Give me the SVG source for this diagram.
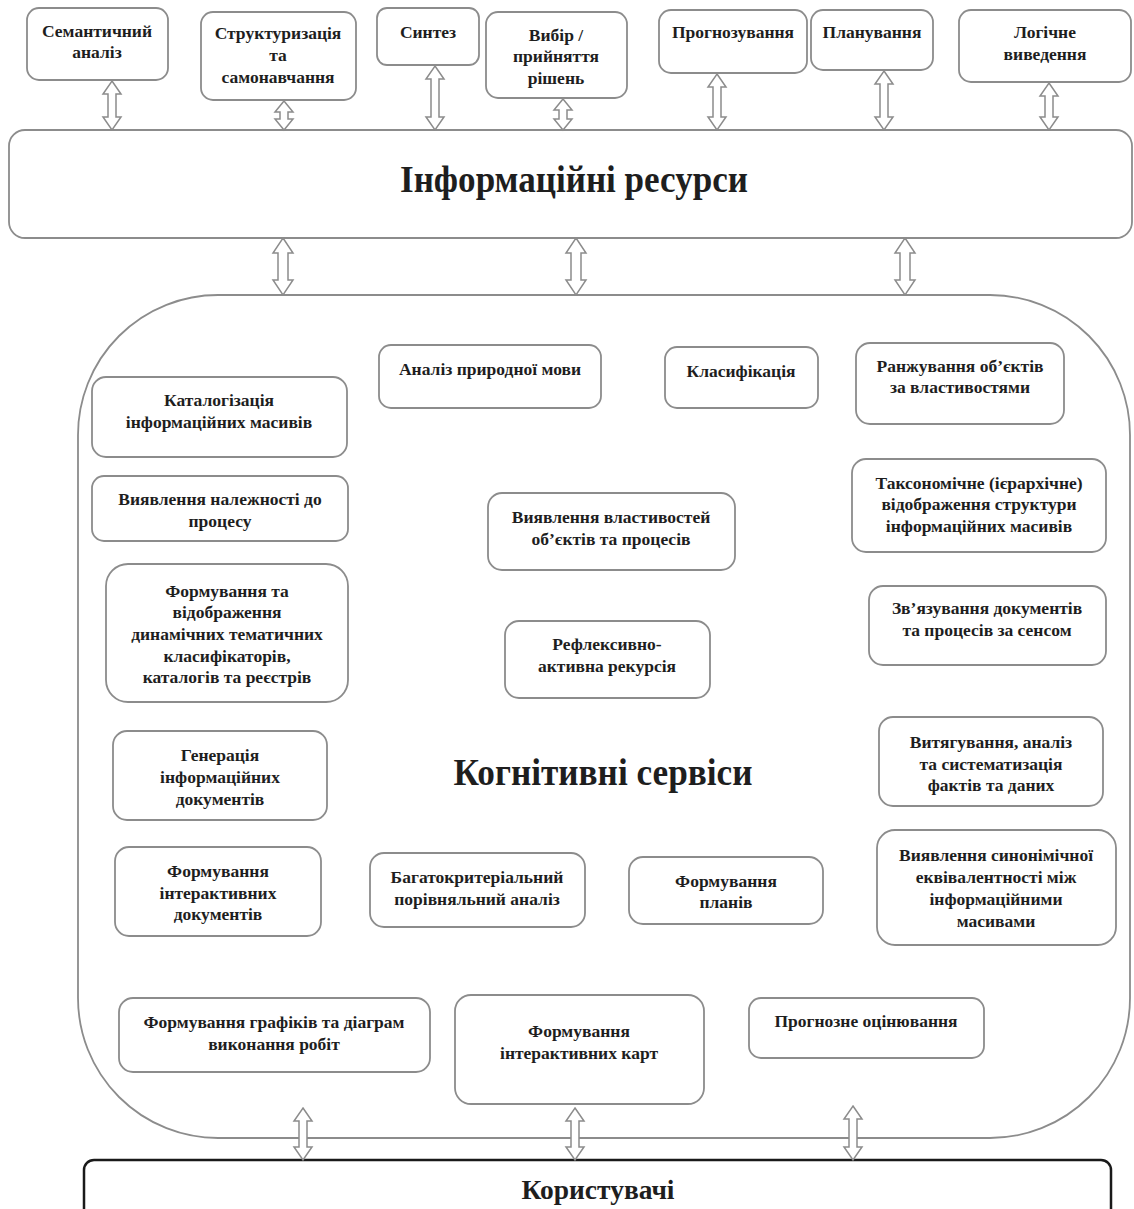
<svg xmlns="http://www.w3.org/2000/svg" width="1134" height="1209" viewBox="0 0 1134 1209">
<style>
.bx{fill:#fff;stroke:#8c8c8c;stroke-width:1.8}
.t{font-family:"Liberation Serif","Times New Roman",serif;font-weight:bold;font-size:17.5px;fill:#1e1e1e;text-anchor:middle}
.ttl{font-family:"Liberation Serif","Times New Roman",serif;font-weight:bold;fill:#1e1e1e;text-anchor:middle}
.arr{fill:#fff;stroke:#8c8c8c;stroke-width:1.5;stroke-linejoin:miter}
</style>
<rect width="1134" height="1209" fill="#fff"/>

<g id="info-resources">
<rect class="bx" x="9" y="130" width="1123" height="108" rx="16"/>
<text class="ttl" x="574" y="192" font-size="38" textLength="348" lengthAdjust="spacingAndGlyphs">Інформаційні ресурси</text>
</g>

<g id="cognitive-services">
<rect class="bx" x="78" y="295" width="1052" height="843" rx="140"/>
<text class="ttl" x="603" y="785" font-size="38" textLength="299" lengthAdjust="spacingAndGlyphs">Когнітивні сервіси</text>
</g>

<g id="users">
<rect x="84" y="1160" width="1027" height="60" rx="10" fill="#fff" stroke="#1a1a1a" stroke-width="2.5"/>
<text class="ttl" x="598" y="1199" font-size="28" textLength="153" lengthAdjust="spacingAndGlyphs">Користувачі</text>
</g>

<g id="connectors">
<path class="arr" d="M112 81 L121 94 L116 94 L116 117 L121 117 L112 130 L103 117 L108 117 L108 94 L103 94 Z"/>
<path class="arr" d="M284 101 L293 112 L288 112 L288 119 L293 119 L284 130 L275 119 L280 119 L280 112 L275 112 Z"/>
<path class="arr" d="M435 66 L444 79 L439 79 L439 117 L444 117 L435 130 L426 117 L431 117 L431 79 L426 79 Z"/>
<path class="arr" d="M563 99 L572 110 L567 110 L567 119 L572 119 L563 130 L554 119 L559 119 L559 110 L554 110 Z"/>
<path class="arr" d="M717 74 L726 87 L721 87 L721 117 L726 117 L717 130 L708 117 L713 117 L713 87 L708 87 Z"/>
<path class="arr" d="M884 71 L893 84 L888 84 L888 117 L893 117 L884 130 L875 117 L880 117 L880 84 L875 84 Z"/>
<path class="arr" d="M1049 83 L1058 96 L1053 96 L1053 117 L1058 117 L1049 130 L1040 117 L1045 117 L1045 96 L1040 96 Z"/>
<path class="arr" d="M283 238 L293 253 L288 253 L288 280 L293 280 L283 295 L273 280 L278 280 L278 253 L273 253 Z"/>
<path class="arr" d="M576 238 L586 253 L581 253 L581 280 L586 280 L576 295 L566 280 L571 280 L571 253 L566 253 Z"/>
<path class="arr" d="M905 238 L915 253 L910 253 L910 280 L915 280 L905 295 L895 280 L900 280 L900 253 L895 253 Z"/>
<path class="arr" d="M303 1108 L312 1121 L307 1121 L307 1147 L312 1147 L303 1160 L294 1147 L299 1147 L299 1121 L294 1121 Z"/>
<path class="arr" d="M575 1108 L584 1121 L579 1121 L579 1147 L584 1147 L575 1160 L566 1147 L571 1147 L571 1121 L566 1121 Z"/>
<path class="arr" d="M853 1106 L862 1119 L857 1119 L857 1147 L862 1147 L853 1160 L844 1147 L849 1147 L849 1119 L844 1119 Z"/>
</g>

<g id="semantic-analysis">
<rect class="bx" x="27" y="8" width="141" height="72" rx="12"/>
<text class="t" x="97" y="37">Семантичний</text>
<text class="t" x="97" y="58">аналіз</text>
</g>
<g id="structuring">
<rect class="bx" x="201" y="12" width="155" height="88" rx="12"/>
<text class="t" x="278" y="39">Структуризація</text>
<text class="t" x="278" y="61">та</text>
<text class="t" x="278" y="83">самонавчання</text>
</g>
<g id="synthesis">
<rect class="bx" x="377" y="8" width="102" height="57" rx="10"/>
<text class="t" x="428" y="38">Синтез</text>
</g>
<g id="decision">
<rect class="bx" x="486" y="12" width="141" height="86" rx="12"/>
<text class="t" x="556" y="41">Вибір /</text>
<text class="t" x="556" y="62">прийняття</text>
<text class="t" x="556" y="84">рішень</text>
</g>
<g id="forecasting">
<rect class="bx" x="659" y="10" width="148" height="63" rx="12"/>
<text class="t" x="733" y="38">Прогнозування</text>
</g>
<g id="planning">
<rect class="bx" x="811" y="10" width="122" height="60" rx="12"/>
<text class="t" x="872" y="38">Планування</text>
</g>
<g id="logical-inference">
<rect class="bx" x="959" y="10" width="172" height="72" rx="12"/>
<text class="t" x="1045" y="38">Логічне</text>
<text class="t" x="1045" y="60">виведення</text>
</g>

<g id="nlp">
<rect class="bx" x="379" y="345" width="222" height="63" rx="12"/>
<text class="t" x="490" y="375">Аналіз природної мови</text>
</g>
<g id="classification">
<rect class="bx" x="665" y="347" width="153" height="61" rx="12"/>
<text class="t" x="741" y="377">Класифікація</text>
</g>
<g id="ranking">
<rect class="bx" x="856" y="343" width="208" height="81" rx="14"/>
<text class="t" x="960" y="372">Ранжування об’єктів</text>
<text class="t" x="960" y="393">за властивостями</text>
</g>
<g id="cataloguing">
<rect class="bx" x="92" y="377" width="255" height="80" rx="14"/>
<text class="t" x="219" y="406">Каталогізація</text>
<text class="t" x="219" y="428">інформаційних масивів</text>
</g>
<g id="process-membership">
<rect class="bx" x="92" y="476" width="256" height="65" rx="12"/>
<text class="t" x="220" y="505">Виявлення належності до</text>
<text class="t" x="220" y="527">процесу</text>
</g>
<g id="properties">
<rect class="bx" x="488" y="493" width="247" height="77" rx="14"/>
<text class="t" x="611" y="523">Виявлення властивостей</text>
<text class="t" x="611" y="545">об’єктів та процесів</text>
</g>
<g id="taxonomy">
<rect class="bx" x="852" y="459" width="254" height="93" rx="14"/>
<text class="t" x="979" y="489">Таксономічне (ієрархічне)</text>
<text class="t" x="979" y="510">відображення структури</text>
<text class="t" x="979" y="532">інформаційних масивів</text>
</g>
<g id="dynamic-classifiers">
<rect class="bx" x="106" y="564" width="242" height="138" rx="22"/>
<text class="t" x="227" y="597">Формування та</text>
<text class="t" x="227" y="618">відображення</text>
<text class="t" x="227" y="640">динамічних тематичних</text>
<text class="t" x="227" y="662">класифікаторів,</text>
<text class="t" x="227" y="683">каталогів та реєстрів</text>
</g>
<g id="reflexive-recursion">
<rect class="bx" x="505" y="621" width="205" height="77" rx="14"/>
<text class="t" x="607" y="650">Рефлексивно-</text>
<text class="t" x="607" y="672">активна рекурсія</text>
</g>
<g id="linking">
<rect class="bx" x="869" y="586" width="237" height="79" rx="14"/>
<text class="t" x="987" y="614">Зв’язування документів</text>
<text class="t" x="987" y="636">та процесів за сенсом</text>
</g>
<g id="doc-generation">
<rect class="bx" x="113" y="731" width="214" height="89" rx="14"/>
<text class="t" x="220" y="761">Генерація</text>
<text class="t" x="220" y="783">інформаційних</text>
<text class="t" x="220" y="805">документів</text>
</g>
<g id="fact-extraction">
<rect class="bx" x="879" y="717" width="224" height="89" rx="14"/>
<text class="t" x="991" y="748">Витягування, аналіз</text>
<text class="t" x="991" y="770">та систематизація</text>
<text class="t" x="991" y="791">фактів та даних</text>
</g>
<g id="interactive-docs">
<rect class="bx" x="115" y="847" width="206" height="89" rx="14"/>
<text class="t" x="218" y="877">Формування</text>
<text class="t" x="218" y="899">інтерактивних</text>
<text class="t" x="218" y="920">документів</text>
</g>
<g id="multicriteria">
<rect class="bx" x="370" y="853" width="215" height="74" rx="14"/>
<text class="t" x="477" y="883">Багатокритеріальний</text>
<text class="t" x="477" y="905">порівняльний аналіз</text>
</g>
<g id="plans">
<rect class="bx" x="629" y="857" width="194" height="67" rx="14"/>
<text class="t" x="726" y="887">Формування</text>
<text class="t" x="726" y="908">планів</text>
</g>
<g id="synonymy">
<rect class="bx" x="877" y="830" width="239" height="115" rx="18"/>
<text class="t" x="996" y="861">Виявлення синонімічної</text>
<text class="t" x="996" y="883">еквівалентності між</text>
<text class="t" x="996" y="905">інформаційними</text>
<text class="t" x="996" y="927">масивами</text>
</g>
<g id="charts">
<rect class="bx" x="119" y="998" width="311" height="74" rx="14"/>
<text class="t" x="274" y="1028">Формування графіків та діаграм</text>
<text class="t" x="274" y="1050">виконання робіт</text>
</g>
<g id="interactive-maps">
<rect class="bx" x="455" y="995" width="249" height="109" rx="16"/>
<text class="t" x="579" y="1037">Формування</text>
<text class="t" x="579" y="1059">інтерактивних карт</text>
</g>
<g id="forecast-evaluation">
<rect class="bx" x="749" y="998" width="235" height="60" rx="12"/>
<text class="t" x="866" y="1027">Прогнозне оцінювання</text>
</g>
</svg>
